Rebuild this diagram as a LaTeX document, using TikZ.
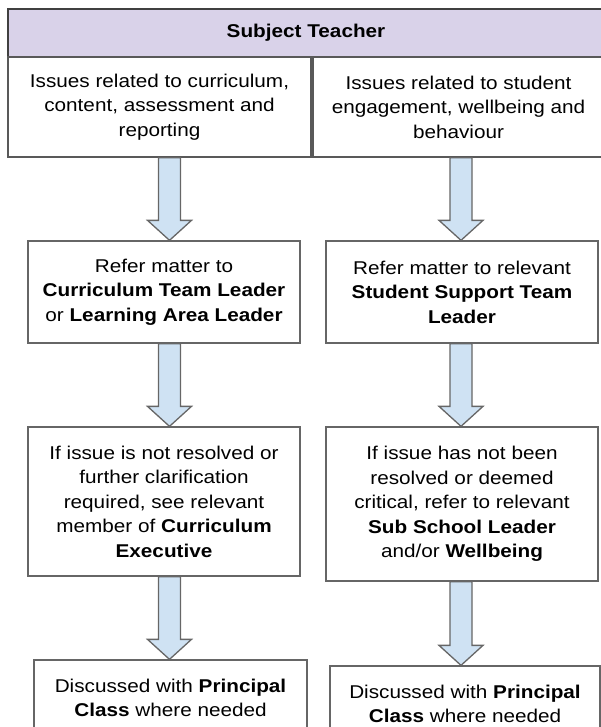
\documentclass[tikz,border=0pt]{standalone}
\usepackage{fontspec}
\setmainfont[FakeStretch=1.12]{Liberation Sans}
\usetikzlibrary{calc}

\newcommand{\blockarrow}[3]{%
  \path let \p1=(#1.south), \p2=(#2.north) in
    [ar] ({#3pt-11pt},\y1) -- ({#3pt+11pt},\y1) -- ({#3pt+11pt},\y2+20pt) -- ({#3pt+22pt},\y2+20pt)
    -- ({#3pt},\y2) -- ({#3pt-22pt},\y2+20pt) -- ({#3pt-11pt},\y2+20pt) -- cycle;}

\begin{document}
\begin{tikzpicture}[x=1pt, y=-1pt, font=\fontsize{18.5}{24.5}\selectfont,
  h/.style={rectangle, draw=black!75, line width=2pt, fill=hdrfill, minimum width=596, minimum height=48, inner sep=0pt},
  c/.style={rectangle, draw=black!65, line width=1.5pt, fill=white, minimum height=100, align=center, inner sep=0pt},
  b/.style={rectangle, draw=black!60, line width=1.3pt, fill=white, minimum width=272, align=center, inner sep=0pt},
  ar/.style={draw=black!60, line width=1.3pt, fill=arrfill}]
		\definecolor{hdrfill}{HTML}{D9D2E9}
		\definecolor{arrfill}{HTML}{CFE2F3}
		\useasboundingbox (0,0) rectangle (601,727);
		\clip (0,0) rectangle (601,727);

		\node[h] (hdr) at (306,33) {\textbf{Subject Teacher}};
		\node[c, minimum width=303] (il) at (159.5,107) {Issues related to curriculum,\\content, assessment and\\reporting};
		\node[c, minimum width=291] (ir) at (458.5,107) {Issues related to student\\engagement, wellbeing and\\behaviour};

		\node[b, minimum height=102] (rl) at (164,292) {Refer matter to\\\textbf{Curriculum Team Leader}\\or \textbf{Learning Area Leader}};
		\node[b, minimum height=102] (rr) at (462,292) {Refer matter to relevant\\\textbf{Student Support Team}\\\textbf{Leader}};

		\node[b, minimum height=149] (el) at (164,501.5) {If issue is not resolved or\\further clarification\\required, see relevant\\member of \textbf{Curriculum}\\\textbf{Executive}};
		\node[b, minimum height=154] (er) at (462,504) {If issue has not been\\resolved or deemed\\critical, refer to relevant\\\textbf{Sub School Leader}\\and/or \textbf{Wellbeing}};

		\node[b, minimum width=273, minimum height=76] (pl) at (170.5,698) {Discussed with \textbf{Principal}\\\textbf{Class} where needed};
		\node[b, minimum width=270, minimum height=76] (pr) at (465,704) {Discussed with \textbf{Principal}\\\textbf{Class} where needed};

		\blockarrow{il}{rl}{169.5}
		\blockarrow{ir}{rr}{461}
		\blockarrow{rl}{el}{169.5}
		\blockarrow{rr}{er}{461}
		\blockarrow{el}{pl}{169.5}
		\blockarrow{er}{pr}{461}
	\end{tikzpicture}
\end{document}
